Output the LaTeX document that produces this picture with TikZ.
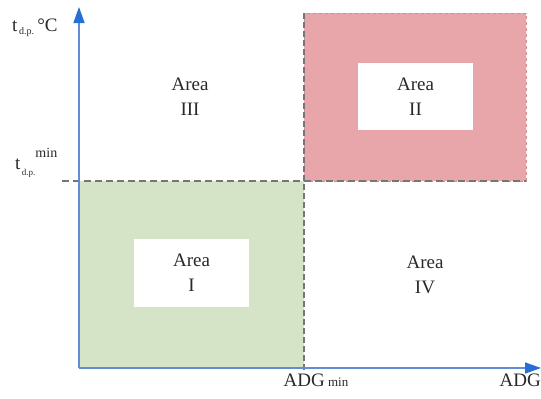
\documentclass[tikz,border=0pt]{standalone}
\usepackage{fontspec}
\setmainfont{Liberation Serif}
\usetikzlibrary{arrows.meta}
\definecolor{axisblue}{RGB}{96,142,212}
\definecolor{arrowblue}{RGB}{40,110,215}
\definecolor{areagreen}{RGB}{213,227,198}
\definecolor{areapink}{RGB}{233,166,170}
\definecolor{pinkedge}{RGB}{205,140,145}
\definecolor{dashgray}{RGB}{118,118,118}
\definecolor{textgray}{RGB}{40,40,40}
\begin{document}
\begin{tikzpicture}[x=1pt,y=-1pt,
  region/.style={inner sep=0pt, outer sep=0pt, anchor=north west},
  whitebox/.style={fill=white, inner sep=0pt, minimum width=115pt, minimum height=68pt, align=center, text=textgray, font=\fontsize{19}{25}\selectfont},
  areatext/.style={align=center, text=textgray, font=\fontsize{19}{25}\selectfont},
  axislabel/.style={font=\fontsize{19}{21}\selectfont, text=textgray, inner sep=0pt},
  axisline/.style={draw=axisblue, line width=1.6pt, -{Triangle[length=16pt,width=11pt,color=arrowblue]}},
  limitline/.style={draw=dashgray, line width=1.4pt, dash pattern=on 7pt off 4pt},
  vlimitline/.style={draw=dashgray, line width=1.1pt, dash pattern=on 6pt off 3pt}
]
\useasboundingbox (0,0) rectangle (541,399);
% regions
\node[region, fill=areagreen, minimum width=225pt, minimum height=187pt] (green) at (79,181) {};
\node[region, fill=areapink, draw=pinkedge, dashed, line width=0.8pt, minimum width=222pt, minimum height=168pt] (pink) at (304,13) {};
% white boxes
\node[whitebox] (a1) at (191.5,273) {Area\\I};
\node[whitebox, minimum height=67pt] (a2) at (415.5,96.5) {Area\\II};
\node[areatext] (a3) at (190,97) {Area\\III};
\node[areatext] (a4) at (425,275) {Area\\IV};
% limits
\coordinate (hl) at (62,181);
\coordinate (hr) at (526,181);
\coordinate (vt) at (304,13);
\coordinate (vb) at (304,373);
\draw[limitline] (hl) -- (hr);
\draw[vlimitline] (vt) -- (vb);
% axes
\coordinate (o) at (79,368);
\coordinate (xe) at (541,368);
\coordinate (ye) at (79,7);
\draw[axisline] (o) -- (xe);
\draw[axisline] (o) -- (ye);
% labels
\node[axislabel, anchor=west] (ylab) at (12,28) {t\raisebox{-0.4ex}{\fontsize{10}{10}\selectfont\,d.p.}\,°C};
\node[axislabel, anchor=west] (tmin) at (15,163) {t\raisebox{-0.7ex}{\fontsize{9}{9}\selectfont\,d.p.}\raisebox{1.4ex}{\fontsize{14}{14}\selectfont min}};
\node[axislabel, anchor=north] (adgmin) at (316,374) {ADG\,{\fontsize{13}{13}\selectfont min}};
\node[axislabel, anchor=north east] (adg) at (541,374) {ADG};
\end{tikzpicture}
\end{document}
